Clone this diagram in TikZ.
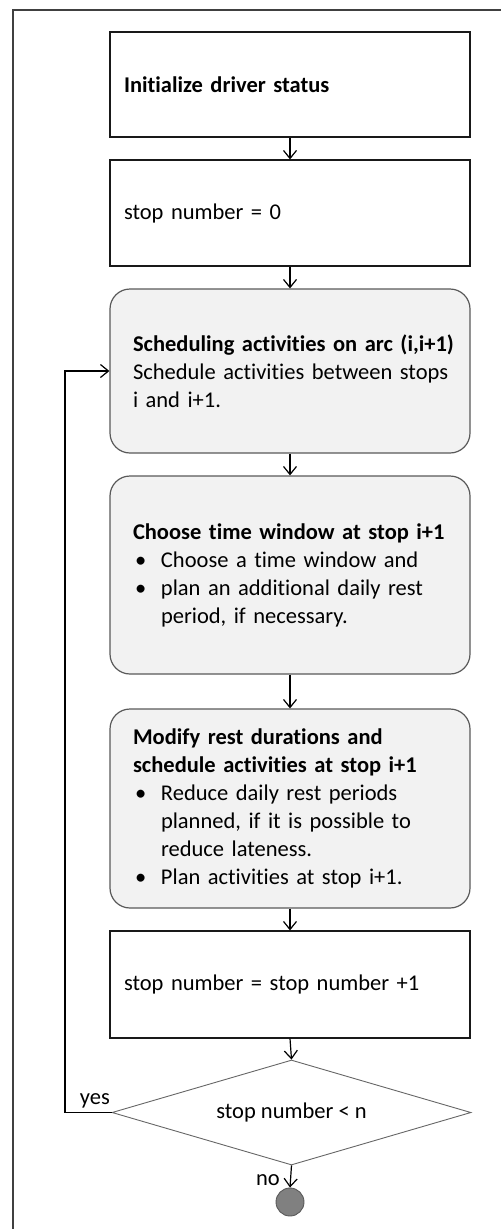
\documentclass[tikz,border=0pt]{standalone}
\usepackage{fontspec}
\setmainfont{Carlito}[Ligatures={NoCommon}]
\usetikzlibrary{arrows.meta,shapes.geometric}
\newcommand{\bul}{\makebox[28pt][l]{\hspace{2pt}\textbullet}}
\newcommand{\ind}{\hspace*{28pt}}
\newcommand{\fline}[1]{\makebox[0pt][l]{#1}}
\begin{document}
\begin{tikzpicture}[x=1pt,y=-1pt,
  font=\fontsize{22.5}{28}\selectfont,
  box/.style={draw=black!90,line width=1.2pt,rectangle,minimum width=360pt,text width=332pt,inner xsep=14pt,inner ysep=0pt,align=left},
  rbox/.style={draw=black!65,line width=1.2pt,fill=black!5,rectangle,rounded corners=20pt,minimum width=360pt,text width=314pt,inner xsep=23pt,inner ysep=0pt,align=left},
  dbox/.style={draw=black!60,line width=0.9pt,diamond,aspect=3.42,minimum width=359pt,minimum height=105pt,inner sep=0pt,align=center},
  endc/.style={circle,draw=black!65,line width=0.9pt,fill=black!50,minimum size=28pt,inner sep=0pt},
  arr/.style={-{Straight Barb[length=8pt,width=13pt,line width=1.2pt]},line width=1.2pt,black},
  lbl/.style={inner sep=0pt}
]
\useasboundingbox (0,0) rectangle (501,1229);
\coordinate (fa) at (13,1229);
\coordinate (fb) at (13,10);
\coordinate (fc) at (501,10);
\draw[black!75,line width=1.2pt] (fa) -- (fb) -- (fc);

\node[box,minimum height=105pt] (b1) at (290,84.5) {\textbf{Initialize driver status}};
\node[box,minimum height=106pt] (b2) at (290,213) {stop number = 0};
\node[rbox,minimum height=164pt] (r1) at (290,371) {\fline{\textbf{Scheduling activities on arc (i,i+1)}}\\\fline{Schedule activities between stops}\\\fline{i and i+1.}};
\node[rbox,minimum height=198pt] (r2) at (290,575) {\fline{\textbf{Choose time window at stop i+1}}\\\fline{\bul Choose a time window and}\\\fline{\bul plan an additional daily rest}\\\fline{\ind period, if necessary.}};
\node[rbox,minimum height=199pt] (r3) at (290,808.5) {\fline{\textbf{Modify rest durations and}}\\\fline{\textbf{schedule activities at stop i+1}}\\\fline{\bul Reduce daily rest periods}\\\fline{\ind planned, if it is possible to}\\\fline{\ind reduce lateness.}\\\fline{\bul Plan activities at stop i+1.}};
\node[box,minimum height=107pt] (b4) at (290,984.5) {stop number = stop number +1\\[6pt]};
\node[dbox] (d) at (291.5,1112.5) {stop number < n};
\node[endc] (e) at (290,1202) {};

\draw[arr] (b1) -- (b2);
\draw[arr] (b2) -- (r1);
\draw[arr] (r1) -- (r2);
\draw[arr] (r2) -- (r3);
\draw[arr] (r3) -- (b4);
\draw[arr] (b4.south) -- (d.north);
\draw[arr] (d.south) -- (e.north);
\coordinate (lp) at (65,1112.5);
\draw[arr] (d.west) -- (lp) |- (r1.west);
\node[lbl,anchor=south east] (yes) at (110,1108) {yes};
\node[lbl,anchor=east] (no) at (280,1180) {no};
\end{tikzpicture}
\end{document}
